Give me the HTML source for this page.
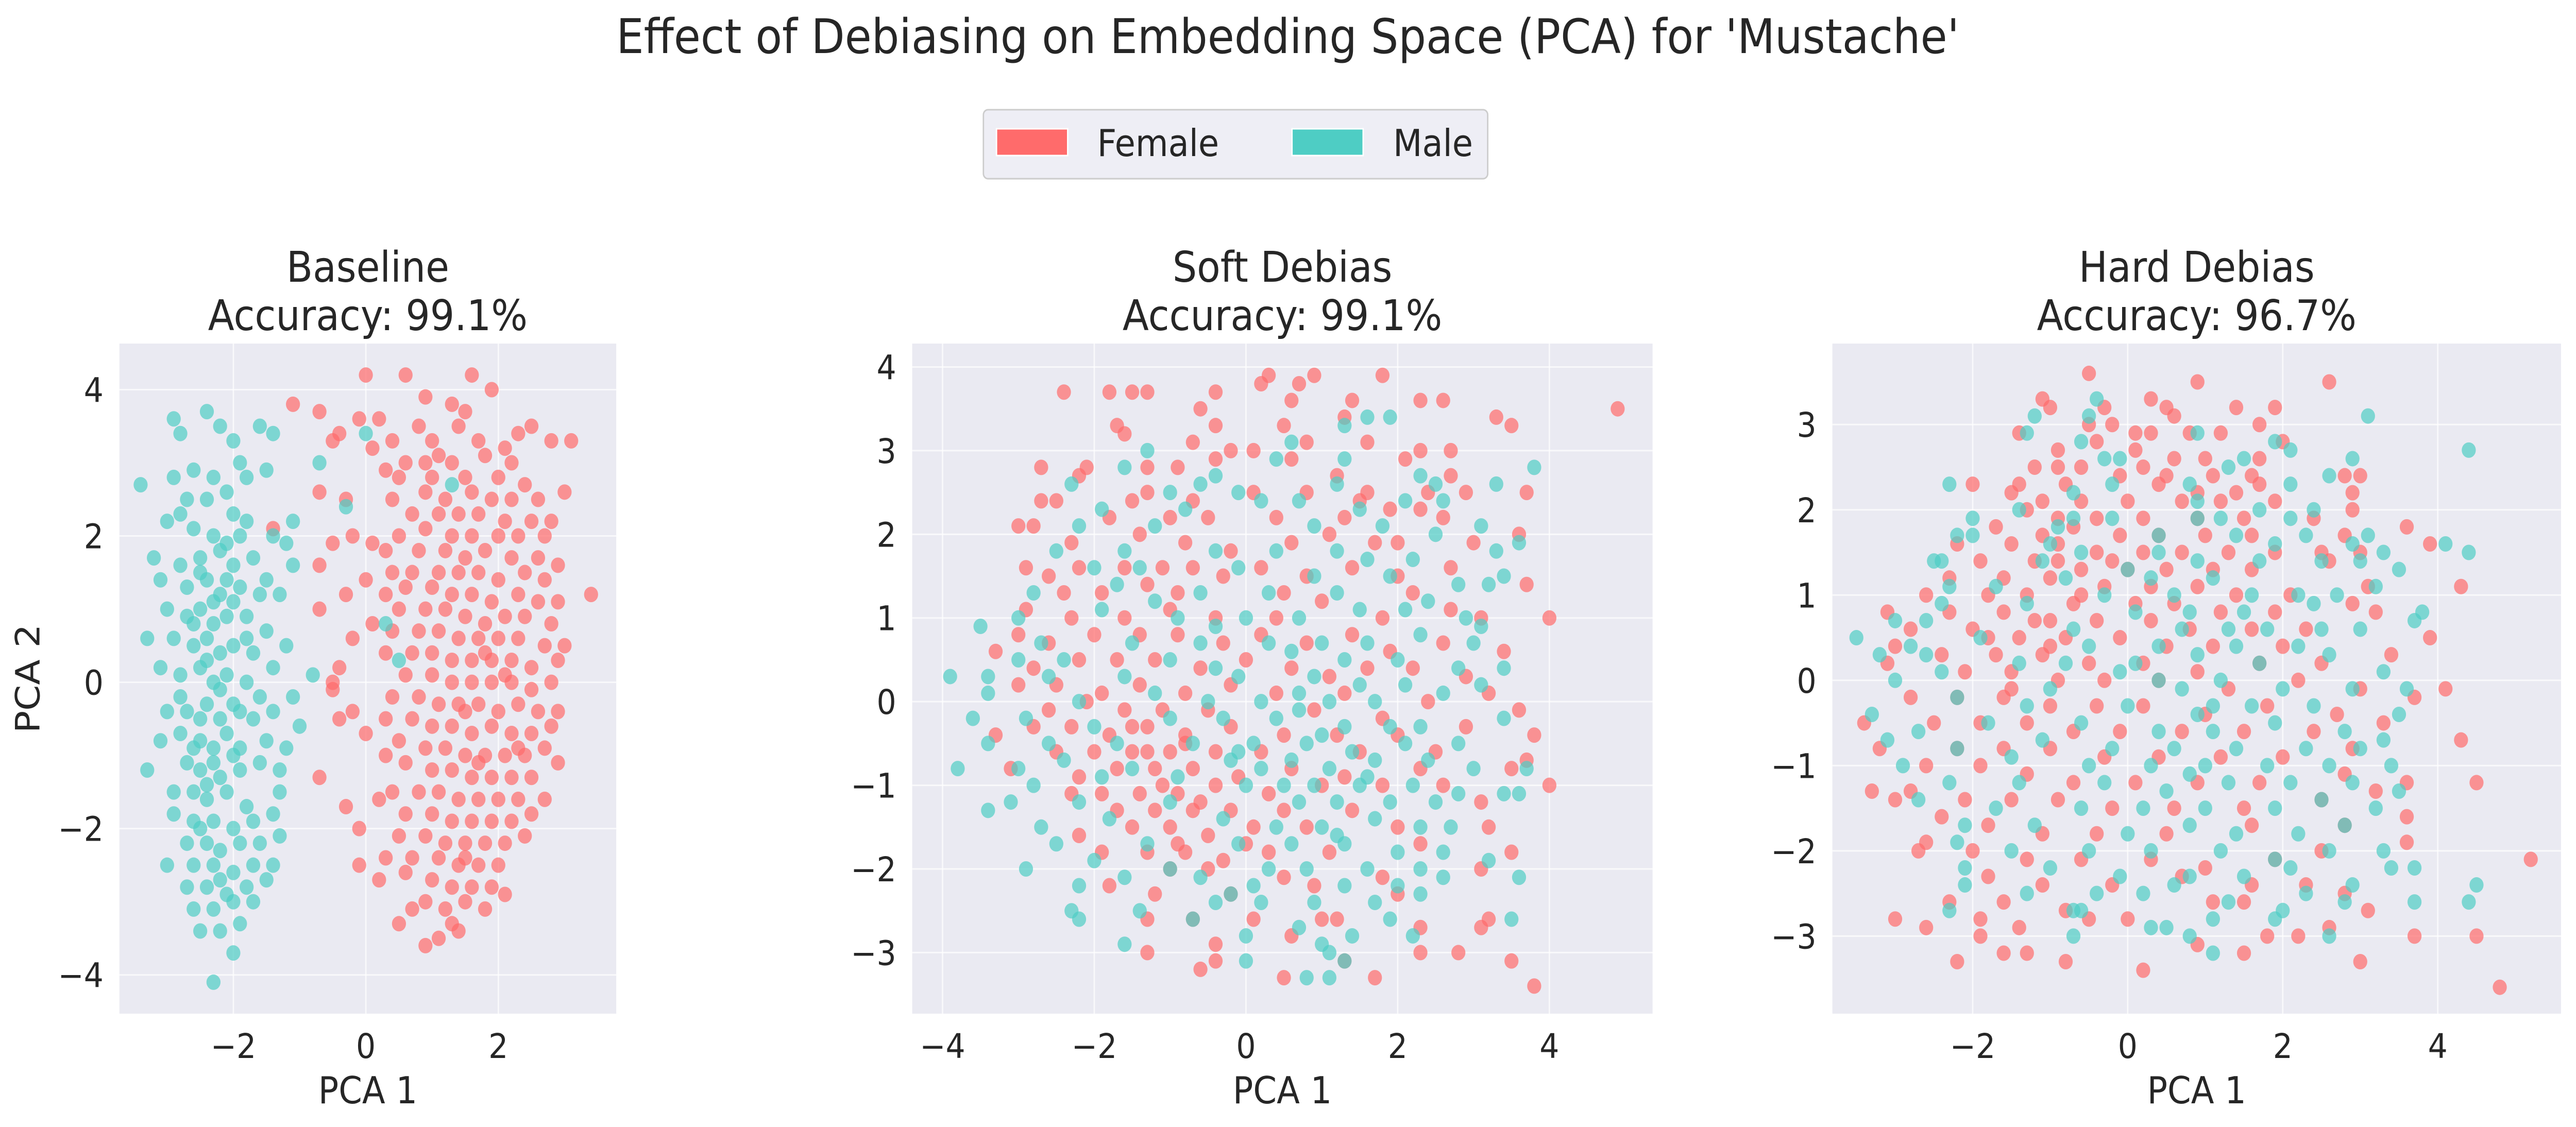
<!DOCTYPE html>
<html><head><meta charset="utf-8">
<style>
html,body{margin:0;padding:0;background:#fff;overflow:hidden;width:100%;height:100%;}
svg{display:block;position:absolute;left:0;top:0;width:100vw;height:100vh;font-family:"DejaVu Sans","Liberation Sans",sans-serif;}
</style></head>
<body>
<svg id="fig" viewBox="0 0 5501 2188" preserveAspectRatio="none" xmlns="http://www.w3.org/2000/svg">
<text x="2750" y="103" text-anchor="middle" font-size="93" fill="#262626">Effect of Debiasing on Embedding Space (PCA) for 'Mustache'</text>
<g>
<rect x="2100" y="213" width="1077" height="134" rx="10" fill="#EAEAF2" fill-opacity="0.8" stroke="#cccccc" stroke-width="3"/>
<rect x="2128" y="250" width="152" height="52" fill="#FF6B6B" stroke="#fff" stroke-width="3"/>
<text x="2343" y="303" font-size="72" fill="#262626">Female</text>
<rect x="2759" y="250" width="152" height="52" fill="#4ECDC4" stroke="#fff" stroke-width="3"/>
<text x="2975" y="303" font-size="72" fill="#262626">Male</text>
</g>
<g id="panels"></g>
</svg>
<script>
const baseF=[[0.0,4.2],[0.6,4.2],[1.6,4.2],[1.9,4.0],[-1.1,3.8],[1.3,3.8],[-0.7,3.7],[0.9,3.9],[1.5,3.7],[-0.1,3.6],[0.2,3.6],[-0.4,3.4],[0.8,3.5],[1.4,3.5],[2.3,3.4],[2.5,3.5],[3.1,3.3],[-0.5,3.3],[0.4,3.3],[1.0,3.3],[1.7,3.3],[2.1,3.2],[2.8,3.3],[0.1,3.2],[0.6,3.0],[0.9,3.0],[1.1,3.1],[1.3,3.0],[1.8,3.1],[2.2,3.0],[0.3,2.9],[0.5,2.8],[1.0,2.8],[1.5,2.8],[2.0,2.8],[2.4,2.7],[-0.7,2.6],[0.9,2.6],[1.2,2.5],[1.6,2.6],[1.9,2.5],[2.2,2.5],[2.6,2.5],[3.0,2.6],[-0.3,2.5],[0.4,2.5],[0.7,2.3],[1.1,2.3],[1.4,2.3],[1.7,2.3],[2.1,2.2],[2.5,2.2],[2.8,2.2],[-1.4,2.1],[-0.2,2.0],[0.1,1.9],[0.5,2.0],[0.9,2.1],[1.3,2.0],[1.6,2.0],[2.0,2.0],[2.3,2.0],[2.7,2.0],[-0.5,1.9],[0.3,1.8],[0.8,1.8],[1.2,1.8],[1.5,1.7],[1.8,1.8],[2.2,1.7],[2.6,1.7],[2.9,1.6],[-0.7,1.6],[0.4,1.5],[0.7,1.5],[1.1,1.5],[1.4,1.5],[1.7,1.5],[2.0,1.4],[2.4,1.5],[2.7,1.4],[0.0,1.4],[0.3,1.2],[0.6,1.3],[1.0,1.3],[1.3,1.2],[1.6,1.2],[1.9,1.1],[2.3,1.2],[2.6,1.1],[2.9,1.1],[3.4,1.2],[-0.3,1.2],[-0.7,1.0],[0.5,1.0],[0.9,1.0],[1.2,1.0],[1.5,0.9],[1.8,0.8],[2.1,0.9],[2.4,0.9],[2.8,0.8],[0.1,0.8],[0.4,0.7],[0.8,0.7],[1.1,0.7],[1.4,0.6],[1.7,0.6],[2.0,0.6],[2.3,0.6],[2.7,0.5],[3.0,0.5],[-0.2,0.6],[0.3,0.4],[0.7,0.4],[1.0,0.4],[1.3,0.3],[1.6,0.3],[1.9,0.3],[2.2,0.3],[2.5,0.2],[2.9,0.3],[-0.4,0.2],[0.6,0.1],[1.0,0.1],[1.3,0.0],[1.6,0.0],[1.9,0.0],[2.2,0.0],[2.5,-0.1],[2.8,0.0],[-0.5,-0.1],[0.4,-0.2],[0.8,-0.2],[1.1,-0.3],[1.4,-0.3],[1.7,-0.3],[2.0,-0.4],[2.3,-0.3],[2.6,-0.4],[2.9,-0.4],[0.3,-0.5],[0.7,-0.5],[1.0,-0.6],[1.3,-0.6],[1.6,-0.7],[1.9,-0.6],[2.2,-0.7],[2.5,-0.7],[2.8,-0.6],[-0.4,-0.5],[0.5,-0.8],[0.9,-0.9],[1.2,-0.9],[1.5,-1.0],[1.8,-1.0],[2.1,-1.0],[2.4,-1.0],[2.7,-0.9],[0.0,-0.7],[0.6,-1.1],[1.0,-1.2],[1.3,-1.2],[1.6,-1.3],[1.9,-1.3],[2.2,-1.3],[2.5,-1.3],[2.9,-1.1],[0.3,-1.0],[-0.7,-1.3],[0.4,-1.5],[0.8,-1.5],[1.1,-1.5],[1.4,-1.6],[1.7,-1.6],[2.0,-1.6],[2.3,-1.6],[2.7,-1.6],[-0.3,-1.7],[0.2,-1.6],[0.6,-1.8],[1.0,-1.8],[1.3,-1.9],[1.6,-1.9],[1.9,-1.9],[2.2,-1.9],[2.5,-1.8],[-0.1,-2.0],[0.5,-2.1],[0.9,-2.1],[1.2,-2.2],[1.5,-2.2],[1.8,-2.2],[2.1,-2.2],[2.4,-2.1],[0.3,-2.4],[0.7,-2.4],[1.1,-2.4],[1.4,-2.5],[1.7,-2.5],[2.0,-2.5],[-0.1,-2.5],[0.2,-2.7],[0.6,-2.6],[1.0,-2.7],[1.3,-2.8],[1.6,-2.8],[1.9,-2.8],[2.1,-2.9],[0.9,-3.0],[1.2,-3.1],[1.5,-3.0],[1.8,-3.1],[0.5,-3.3],[1.3,-3.3],[0.7,-3.1],[0.9,-3.6],[1.1,-3.5],[1.4,-3.4],[-0.5,0.0],[-0.2,-0.4],[2.3,-0.9],[1.7,-1.1],[1.5,-0.4],[2.1,0.1],[1.8,0.4],[1.5,-2.4]];
const baseM=[[-2.4,3.7],[-2.9,3.6],[-2.8,3.4],[-2.2,3.5],[-2.0,3.3],[-1.6,3.5],[-1.4,3.4],[-3.4,2.7],[-2.9,2.8],[-2.6,2.9],[-2.3,2.8],[-2.1,2.6],[-1.9,3.0],[-1.8,2.8],[-1.5,2.9],[-2.7,2.5],[-2.4,2.5],[-2.0,2.3],[-1.8,2.2],[-1.1,2.2],[-3.0,2.2],[-2.6,2.1],[-2.3,2.0],[-2.1,1.9],[-1.9,2.0],[-1.4,2.0],[-1.2,1.9],[-3.2,1.7],[-2.8,1.6],[-2.5,1.7],[-2.2,1.8],[-2.0,1.6],[-1.7,1.7],[-1.5,1.4],[-1.1,1.6],[-3.1,1.4],[-2.7,1.3],[-2.4,1.4],[-2.2,1.2],[-1.9,1.3],[-1.6,1.2],[-1.3,1.2],[-3.0,1.0],[-2.7,0.9],[-2.5,1.0],[-2.3,0.8],[-2.1,0.9],[-1.8,0.9],[-1.5,0.7],[-1.2,0.5],[-3.3,0.6],[-2.9,0.6],[-2.6,0.5],[-2.4,0.6],[-2.2,0.4],[-2.0,0.5],[-1.7,0.4],[-1.4,0.2],[-0.8,0.1],[-3.1,0.2],[-2.8,0.1],[-2.5,0.2],[-2.3,0.0],[-2.1,0.1],[-1.8,0.0],[-1.6,-0.2],[-1.1,-0.2],[-3.0,-0.4],[-2.7,-0.4],[-2.4,-0.3],[-2.2,-0.5],[-2.0,-0.3],[-1.7,-0.5],[-1.4,-0.4],[-1.0,-0.6],[-3.1,-0.8],[-2.8,-0.7],[-2.5,-0.8],[-2.3,-0.9],[-2.1,-0.7],[-1.9,-0.9],[-1.5,-0.8],[-1.2,-0.9],[-3.3,-1.2],[-2.7,-1.1],[-2.5,-1.2],[-2.2,-1.3],[-1.9,-1.2],[-1.6,-1.1],[-1.3,-1.2],[-2.9,-1.5],[-2.6,-1.5],[-2.4,-1.6],[-2.1,-1.5],[-1.8,-1.7],[-1.3,-1.5],[-2.9,-1.8],[-2.6,-1.9],[-2.3,-1.9],[-2.0,-2.0],[-1.7,-1.9],[-1.4,-1.8],[-2.7,-2.2],[-2.4,-2.2],[-2.2,-2.3],[-1.9,-2.2],[-1.6,-2.2],[-1.3,-2.1],[-3.0,-2.5],[-2.6,-2.5],[-2.3,-2.5],[-2.0,-2.6],[-1.7,-2.5],[-1.4,-2.5],[-2.7,-2.8],[-2.4,-2.8],[-2.1,-2.9],[-1.8,-2.8],[-1.5,-2.7],[-2.6,-3.1],[-2.3,-3.1],[-2.0,-3.0],[-1.7,-3.0],[-2.5,-3.4],[-2.2,-3.4],[-1.9,-3.3],[-2.0,-3.7],[-2.3,-4.1],[-2.8,2.3],[-2.5,1.5],[-2.3,1.1],[-2.6,0.8],[-2.4,0.3],[-2.2,-0.1],[-2.5,-0.5],[-2.3,-1.1],[-2.4,-1.4],[-2.5,-2.0],[-2.2,-2.7],[-2.0,1.1],[-2.0,-1.0],[-2.8,-0.2],[-1.8,0.6],[-1.9,-0.4],[-2.6,-0.9],[-2.1,1.4],[0.0,3.4],[-0.7,3.0],[0.5,0.3],[0.3,0.8],[1.3,2.7],[-0.3,2.4]];
const softF=[[-2.4,3.7],[-1.8,3.7],[-1.5,3.7],[-1.3,3.7],[0.3,3.9],[0.9,3.9],[1.8,3.9],[-0.4,3.7],[0.2,3.8],[0.7,3.8],[-0.6,3.5],[0.6,3.6],[1.4,3.6],[2.3,3.6],[2.6,3.6],[4.9,3.5],[-1.7,3.3],[-0.4,3.3],[0.5,3.3],[1.3,3.4],[3.3,3.4],[3.5,3.3],[-1.6,3.2],[-0.7,3.1],[-0.2,3.0],[0.1,3.0],[0.8,3.1],[1.6,3.1],[2.3,3.0],[2.7,3.0],[-2.7,2.8],[-2.1,2.8],[-1.3,2.8],[-0.9,2.8],[-0.4,2.9],[0.6,2.9],[1.2,2.7],[2.1,2.9],[2.7,2.7],[-2.2,2.7],[-1.3,2.5],[0.8,2.5],[1.6,2.5],[2.4,2.5],[3.7,2.5],[-2.7,2.4],[-2.5,2.4],[-1.5,2.4],[-0.7,2.4],[0.1,2.5],[1.5,2.4],[2.3,2.3],[2.9,2.5],[-3.0,2.1],[-2.8,2.1],[-1.8,2.2],[-1.0,2.2],[-0.5,2.2],[0.4,2.2],[1.3,2.2],[1.9,2.3],[2.6,2.2],[3.6,2.0],[-2.3,1.9],[-1.4,2.0],[-0.8,1.9],[-0.2,1.8],[0.6,1.9],[1.1,2.0],[1.7,1.9],[2.0,1.9],[3.0,1.9],[-2.9,1.6],[-2.6,1.5],[-2.2,1.6],[-1.6,1.6],[-1.1,1.6],[-0.7,1.6],[-0.3,1.5],[0.2,1.6],[0.8,1.5],[1.4,1.6],[2.0,1.5],[2.7,1.6],[-2.4,1.3],[-1.9,1.3],[-1.3,1.4],[-0.9,1.3],[0.5,1.3],[1.0,1.2],[2.2,1.3],[3.7,1.4],[-2.9,1.1],[-2.3,1.0],[-1.6,1.0],[-1.0,1.1],[-0.4,1.0],[0.4,1.0],[1.8,1.0],[2.7,1.1],[3.1,1.0],[4.0,1.0],[-3.0,0.8],[-2.6,0.7],[-2.0,0.8],[-1.4,0.8],[-0.9,0.8],[-0.3,0.7],[0.2,0.8],[0.8,0.7],[1.4,0.8],[1.9,0.6],[2.6,0.7],[3.4,0.6],[-3.3,0.6],[-2.8,0.4],[-2.2,0.5],[-1.7,0.5],[-1.2,0.5],[-0.6,0.4],[0.0,0.5],[0.6,0.4],[1.1,0.3],[1.6,0.4],[2.2,0.4],[2.9,0.3],[-3.0,0.2],[-2.5,0.2],[-1.9,0.1],[-1.4,0.2],[-0.8,0.1],[-0.2,0.2],[0.4,0.1],[1.3,0.1],[2.4,0.0],[3.2,0.1],[-2.6,-0.1],[-2.1,0.0],[-1.6,-0.1],[-1.1,-0.1],[-0.5,-0.1],[0.9,-0.1],[1.8,-0.2],[3.6,-0.1],[-3.3,-0.4],[-2.8,-0.3],[-2.3,-0.3],[-1.8,-0.4],[-1.3,-0.3],[-0.8,-0.4],[-0.2,-0.3],[0.5,-0.4],[1.2,-0.4],[2.0,-0.4],[2.9,-0.3],[3.8,-0.4],[-2.5,-0.6],[-2.0,-0.6],[-1.5,-0.6],[-1.0,-0.6],[-0.4,-0.6],[0.2,-0.6],[1.5,-0.6],[2.5,-0.6],[3.7,-0.7],[-3.1,-0.8],[-2.2,-0.9],[-1.7,-0.8],[-1.2,-0.8],[-0.7,-0.8],[-0.1,-0.9],[0.6,-0.8],[1.3,-0.9],[2.3,-0.8],[3.5,-0.8],[-2.3,-1.1],[-1.9,-1.1],[-1.4,-1.1],[-0.9,-1.1],[-0.4,-1.0],[0.3,-1.1],[1.0,-1.0],[1.8,-1.0],[2.6,-1.0],[4.0,-1.0],[-1.7,-1.3],[-1.2,-1.3],[-0.7,-1.3],[-0.2,-1.3],[0.5,-1.3],[1.4,-1.3],[3.1,-1.2],[-2.2,-1.6],[-1.5,-1.5],[-1.0,-1.5],[-0.5,-1.6],[0.1,-1.5],[0.8,-1.5],[2.0,-1.5],[3.2,-1.5],[-1.9,-1.8],[-1.3,-1.8],[-0.8,-1.8],[-0.3,-1.9],[0.3,-1.8],[1.1,-1.8],[2.3,-1.7],[3.5,-1.8],[-1.0,-2.0],[-0.5,-2.0],[0.5,-2.1],[1.8,-2.1],[3.1,-2.0],[-1.8,-2.2],[-1.2,-2.3],[-0.2,-2.3],[0.9,-2.2],[2.0,-2.3],[-1.3,-2.6],[-0.7,-2.6],[0.1,-2.6],[1.2,-2.6],[3.2,-2.6],[-0.4,-2.9],[0.6,-2.8],[1.0,-2.6],[2.3,-2.7],[3.1,-2.7],[-1.3,-3.0],[-0.4,-3.1],[0.5,-3.3],[1.3,-3.1],[2.3,-3.0],[2.8,-3.0],[-0.6,-3.2],[1.7,-3.3],[3.5,-3.1],[3.8,-3.4],[-1.1,-1.0],[-0.8,-0.5],[-1.5,-0.3],[-0.6,-1.2],[-1.3,-0.6],[0.0,-1.7],[-0.9,-1.7]];
const softM=[[1.6,3.4],[1.9,3.4],[1.3,3.3],[0.6,3.1],[-1.3,3.0],[-1.6,2.8],[-0.4,2.7],[-0.6,2.6],[0.4,2.9],[1.3,2.9],[3.8,2.8],[-2.3,2.6],[-1.0,2.5],[-0.1,2.5],[1.2,2.6],[2.3,2.7],[2.5,2.6],[3.3,2.6],[-1.9,2.3],[-0.8,2.3],[0.2,2.4],[0.7,2.4],[1.5,2.3],[2.1,2.4],[2.6,2.4],[-2.2,2.1],[-1.2,2.1],[0.9,2.1],[1.8,2.1],[2.5,2.0],[3.1,2.1],[3.6,1.9],[-2.5,1.8],[-1.6,1.8],[-0.4,1.8],[0.4,1.8],[1.2,1.8],[1.6,1.7],[2.2,1.7],[3.3,1.8],[-2.0,1.6],[-1.4,1.6],[-0.1,1.6],[0.9,1.5],[1.9,1.5],[2.8,1.4],[3.4,1.5],[-2.8,1.3],[-1.7,1.4],[-0.6,1.3],[0.3,1.3],[1.2,1.3],[2.4,1.2],[3.2,1.4],[-3.0,1.0],[-1.9,1.1],[-0.9,1.0],[0.0,1.0],[0.7,1.0],[1.5,1.1],[2.1,1.1],[2.9,1.0],[3.1,0.9],[-3.5,0.9],[-2.7,0.7],[-1.5,0.7],[-0.6,0.7],[0.3,0.7],[1.0,0.7],[1.6,0.7],[2.3,0.8],[3.0,0.7],[-3.0,0.5],[-2.4,0.5],[-1.0,0.5],[-0.4,0.4],[0.6,0.6],[1.3,0.5],[2.0,0.5],[2.8,0.4],[3.4,0.4],[-3.9,0.3],[-3.4,0.3],[-2.6,0.3],[-1.6,0.3],[-0.1,0.3],[0.9,0.3],[1.5,0.2],[2.1,0.2],[3.1,0.2],[-3.4,0.1],[-2.2,0.0],[-1.2,0.1],[-0.5,0.0],[0.2,0.0],[0.7,0.1],[1.1,0.0],[1.7,0.0],[2.6,0.1],[-3.6,-0.2],[-2.9,-0.2],[-2.0,-0.3],[-1.0,-0.2],[-0.3,-0.2],[0.4,-0.2],[1.3,-0.3],[1.9,-0.3],[2.3,-0.3],[3.4,-0.2],[-3.4,-0.5],[-2.6,-0.5],[-1.7,-0.5],[-0.7,-0.5],[0.1,-0.5],[0.8,-0.5],[1.4,-0.6],[2.1,-0.5],[2.8,-0.5],[-3.0,-0.8],[-2.4,-0.7],[-1.5,-0.8],[-0.2,-0.7],[0.6,-0.7],[1.1,-0.8],[1.7,-0.7],[2.4,-0.7],[3.0,-0.8],[3.7,-0.8],[-3.8,-0.8],[-2.8,-1.0],[-1.9,-0.9],[-0.9,-0.9],[0.0,-1.0],[0.9,-1.0],[1.5,-1.0],[2.2,-1.0],[2.8,-1.1],[3.6,-1.1],[-3.1,-1.2],[-3.4,-1.3],[-2.2,-1.2],[-1.0,-1.2],[0.7,-1.2],[1.2,-1.2],[1.9,-1.2],[2.5,-1.2],[3.4,-1.1],[-2.7,-1.5],[-1.8,-1.4],[-0.3,-1.4],[0.4,-1.5],[1.0,-1.5],[1.7,-1.4],[2.3,-1.5],[2.7,-1.5],[-2.5,-1.7],[-1.3,-1.7],[-0.1,-1.7],[0.6,-1.7],[1.3,-1.7],[2.0,-1.8],[2.6,-1.8],[-2.0,-1.9],[-1.0,-2.0],[0.3,-2.0],[0.8,-2.0],[1.6,-2.0],[2.3,-2.0],[3.2,-1.9],[-2.9,-2.0],[-2.2,-2.2],[-1.6,-2.1],[-0.6,-2.1],[0.1,-2.2],[1.3,-2.2],[2.0,-2.2],[2.6,-2.1],[3.6,-2.1],[-2.3,-2.5],[-1.4,-2.5],[-0.4,-2.4],[0.2,-2.4],[0.9,-2.4],[1.7,-2.4],[2.3,-2.3],[-2.2,-2.6],[-0.7,-2.6],[0.7,-2.7],[1.4,-2.8],[1.9,-2.6],[3.5,-2.6],[-1.6,-2.9],[0.0,-2.8],[1.0,-2.9],[2.2,-2.8],[0.0,-3.1],[1.1,-3.0],[1.3,-3.1],[0.8,-3.3],[1.1,-3.3],[-0.2,-2.3],[0.5,-1.0],[0.2,-0.8],[-0.1,-0.6],[1.0,-0.4],[0.7,-0.1],[1.6,-0.9],[1.2,-1.6],[-0.4,0.9],[-1.2,1.2]];
const hardF=[[-0.5,3.6],[2.6,3.5],[0.9,3.5],[-1.1,3.3],[-1.0,3.2],[0.3,3.3],[-0.3,3.2],[0.5,3.2],[1.4,3.2],[1.9,3.2],[-0.5,3.0],[-0.2,3.0],[0.6,3.1],[1.7,3.0],[-1.4,2.9],[0.1,2.9],[0.3,2.9],[0.8,2.9],[1.2,2.9],[2.0,2.8],[-0.9,2.7],[-0.4,2.8],[0.1,2.7],[0.6,2.6],[1.0,2.6],[1.7,2.6],[-1.2,2.5],[-0.9,2.5],[-0.6,2.5],[0.2,2.5],[0.5,2.4],[1.1,2.4],[1.6,2.4],[2.8,2.4],[3.0,2.4],[-2.0,2.3],[-1.4,2.3],[-0.8,2.3],[-0.1,2.4],[0.4,2.3],[0.9,2.2],[1.4,2.2],[1.7,2.3],[2.9,2.2],[-1.5,2.2],[-1.1,2.1],[-0.6,2.1],[0.0,2.1],[0.7,2.1],[1.2,2.1],[1.9,2.1],[2.9,2.0],[-1.3,2.0],[-0.9,1.9],[-0.4,1.9],[0.2,1.9],[0.9,1.9],[1.5,1.9],[2.4,1.9],[3.6,1.8],[-1.7,1.8],[-1.1,1.7],[-0.7,1.8],[-0.1,1.7],[0.4,1.7],[1.0,1.7],[1.6,1.7],[2.8,1.7],[3.9,1.6],[-2.2,1.6],[-1.5,1.6],[-0.9,1.6],[-0.4,1.5],[0.2,1.5],[0.7,1.5],[1.3,1.5],[1.9,1.5],[2.5,1.5],[3.0,1.5],[-1.9,1.4],[-1.2,1.4],[-0.6,1.3],[0.0,1.3],[0.5,1.3],[1.1,1.3],[1.6,1.3],[2.6,1.4],[-2.3,1.2],[-1.6,1.2],[-1.0,1.2],[-0.3,1.1],[0.3,1.1],[0.9,1.1],[1.4,1.0],[2.1,1.0],[3.1,1.1],[-2.6,1.0],[-1.8,1.0],[-1.3,1.0],[-0.7,0.9],[0.1,0.9],[0.6,0.9],[1.2,0.8],[1.9,0.8],[2.9,0.9],[4.3,1.1],[-3.1,0.8],[-2.3,0.8],[-1.6,0.8],[-1.0,0.7],[-0.4,0.7],[0.3,0.7],[0.8,0.6],[1.6,0.6],[2.3,0.6],[3.2,0.8],[-2.8,0.6],[-2.0,0.6],[-1.4,0.5],[-0.8,0.5],[-0.1,0.5],[0.5,0.4],[1.1,0.4],[2.0,0.4],[3.9,0.5],[-3.0,0.4],[-2.4,0.3],[-1.7,0.3],[-1.1,0.3],[-0.5,0.2],[0.2,0.2],[0.9,0.1],[1.7,0.2],[2.5,0.2],[3.4,0.3],[-3.1,0.2],[-2.1,0.1],[-1.5,0.1],[-0.9,0.0],[-0.3,0.0],[0.4,0.0],[1.3,-0.1],[2.2,0.0],[3.0,-0.1],[4.1,-0.1],[-3.4,-0.5],[-2.8,-0.2],[-2.2,-0.2],[-1.6,-0.2],[-1.0,-0.3],[-0.4,-0.3],[0.2,-0.3],[1.0,-0.4],[1.8,-0.3],[2.7,-0.4],[3.7,-0.2],[-2.5,-0.5],[-1.9,-0.5],[-1.3,-0.5],[-0.7,-0.6],[-0.1,-0.6],[0.7,-0.6],[1.5,-0.6],[2.4,-0.6],[3.3,-0.5],[-3.2,-0.8],[-2.2,-0.8],[-1.6,-0.8],[-1.0,-0.8],[-0.3,-0.9],[0.4,-0.9],[1.2,-0.9],[2.0,-0.9],[2.9,-0.8],[4.3,-0.7],[-2.6,-1.0],[-1.9,-1.0],[-1.3,-1.1],[-0.7,-1.2],[0.1,-1.2],[0.9,-1.2],[1.7,-1.2],[2.8,-1.1],[3.6,-1.2],[-3.3,-1.3],[-2.8,-1.3],[-2.1,-1.4],[-1.5,-1.4],[-0.9,-1.4],[-0.2,-1.5],[0.6,-1.5],[1.5,-1.5],[2.5,-1.4],[3.2,-1.3],[4.5,-1.2],[-3.0,-1.4],[-2.4,-1.6],[-1.8,-1.7],[-1.1,-1.8],[-0.4,-1.8],[0.5,-1.8],[1.6,-1.7],[2.8,-1.7],[3.6,-1.6],[-2.6,-1.9],[-2.0,-2.0],[-1.3,-2.1],[-0.6,-2.1],[0.3,-2.1],[1.0,-2.2],[1.9,-2.1],[2.5,-2.0],[3.6,-1.9],[5.2,-2.1],[-2.7,-2.0],[-1.8,-2.3],[-1.1,-2.4],[-0.2,-2.4],[0.7,-2.3],[1.6,-2.4],[2.3,-2.4],[2.8,-2.5],[-2.3,-2.6],[-1.6,-2.6],[-0.8,-2.7],[0.0,-2.8],[1.1,-2.6],[1.5,-2.6],[2.6,-2.9],[3.1,-2.7],[-3.0,-2.8],[-2.6,-2.9],[-1.9,-2.8],[-1.4,-2.9],[-0.5,-2.8],[0.9,-3.1],[1.8,-3.0],[3.7,-3.0],[-1.9,-3.0],[-1.6,-3.2],[-1.3,-3.2],[-0.8,-3.3],[0.2,-3.4],[1.5,-3.2],[2.2,-3.0],[3.0,-3.3],[-2.2,-3.3],[4.8,-3.6],[4.5,-3.0],[-1.0,0.4],[-0.6,1.0],[-1.2,0.7],[-0.2,1.4],[-0.9,1.4],[-1.5,-0.1],[-1.8,0.5]];
const hardM=[[-0.4,3.3],[3.1,3.1],[-1.2,3.1],[-0.5,3.1],[-1.3,2.9],[0.9,2.9],[1.9,2.8],[-0.6,2.8],[2.1,2.7],[4.4,2.7],[-0.3,2.6],[-0.1,2.6],[1.3,2.5],[1.5,2.6],[2.9,2.6],[2.6,2.4],[-2.3,2.3],[-0.2,2.3],[0.8,2.3],[2.1,2.3],[-0.7,2.2],[0.9,2.1],[1.7,2.0],[2.4,2.0],[-1.4,2.0],[-0.7,1.9],[-2.0,1.9],[0.9,1.9],[1.2,1.9],[2.1,1.9],[-0.9,1.8],[-2.2,1.7],[-0.2,1.9],[1.4,1.7],[2.3,1.7],[3.1,1.7],[4.1,1.6],[-2.0,1.7],[0.4,1.7],[1.9,1.6],[2.9,1.6],[3.3,1.5],[4.4,1.5],[-2.5,1.4],[-2.4,1.4],[-1.1,1.4],[-0.6,1.5],[0.4,1.5],[0.9,1.4],[1.7,1.4],[2.5,1.4],[3.0,1.4],[-0.8,1.2],[0.3,1.2],[1.1,1.2],[2.2,1.0],[3.5,1.3],[-2.3,1.1],[-1.7,1.1],[-0.3,1.0],[0.6,1.0],[1.6,1.0],[2.7,1.0],[3.2,1.1],[-2.4,0.9],[-1.3,0.9],[0.1,0.8],[0.8,0.8],[1.5,0.8],[2.4,0.9],[3.8,0.8],[-2.6,0.7],[-3.0,0.7],[-0.7,0.6],[0.7,0.6],[1.3,0.6],[1.8,0.6],[2.5,0.6],[3.7,0.7],[-3.5,0.5],[-2.8,0.4],[-1.9,0.5],[-0.5,0.4],[0.4,0.4],[1.4,0.4],[2.2,0.4],[3.0,0.6],[-3.2,0.3],[-2.6,0.3],[-1.4,0.2],[0.1,0.2],[0.9,0.3],[1.7,0.2],[2.6,0.3],[3.3,0.1],[-3.0,0.0],[-2.4,0.1],[-1.0,-0.1],[-0.1,0.1],[0.7,-0.1],[1.2,0.0],[2.0,-0.1],[2.9,-0.1],[3.6,-0.1],[-3.3,-0.4],[-2.2,-0.2],[-1.3,-0.3],[0.0,-0.3],[0.9,-0.4],[1.6,-0.3],[2.4,-0.3],[3.5,-0.4],[-2.7,-0.6],[-1.8,-0.5],[-0.6,-0.5],[0.4,-0.6],[1.1,-0.6],[1.9,-0.5],[2.8,-0.6],[3.3,-0.7],[-3.1,-0.7],[-2.2,-0.8],[-1.1,-0.7],[-0.2,-0.8],[0.6,-0.8],[1.4,-0.8],[2.3,-0.8],[3.0,-0.8],[-2.9,-1.0],[-1.5,-0.9],[-0.5,-1.0],[0.3,-1.0],[1.0,-1.0],[1.8,-1.0],[2.6,-1.0],[3.4,-1.0],[-2.3,-1.2],[-1.4,-1.2],[-0.3,-1.2],[0.5,-1.3],[1.3,-1.2],[2.1,-1.2],[2.9,-1.2],[3.5,-1.3],[-2.7,-1.4],[-1.7,-1.5],[-0.6,-1.5],[0.2,-1.5],[1.0,-1.5],[1.9,-1.5],[2.5,-1.4],[3.2,-1.5],[-2.1,-1.7],[-1.2,-1.7],[0.0,-1.8],[0.8,-1.7],[1.4,-1.8],[2.2,-1.8],[2.8,-1.7],[-2.2,-1.9],[-1.5,-2.0],[-0.5,-2.0],[0.3,-2.0],[1.2,-2.0],[1.9,-2.1],[2.6,-2.0],[3.3,-2.0],[-2.1,-2.2],[-1.0,-2.2],[-0.1,-2.3],[0.8,-2.3],[1.5,-2.3],[2.1,-2.2],[3.4,-2.2],[3.7,-2.2],[-2.1,-2.4],[-1.3,-2.5],[-0.4,-2.5],[0.6,-2.4],[1.3,-2.6],[2.3,-2.5],[2.9,-2.4],[4.5,-2.4],[-2.3,-2.7],[-0.6,-2.7],[0.2,-2.5],[1.1,-2.8],[2.0,-2.7],[2.8,-2.6],[3.7,-2.6],[4.4,-2.6],[-0.7,-2.7],[0.5,-2.9],[0.3,-2.9],[1.9,-2.8],[2.6,-3.0],[-0.7,-3.0],[1.1,-3.2],[0.8,-3.0],[0.8,-1.1],[0.4,0.0],[1.1,-0.3],[-0.8,0.2],[0.0,1.3],[-1.0,1.6]];
const panelTitles=["Baseline","Soft Debias","Hard Debias"];
const accuracies=["99.1%","99.1%","96.7%"];
const xTicks1=[-2,0,2], yTicks1=[-4,-2,0,2,4];
const xTicks2=[-4,-2,0,2,4], yTicks2=[-3,-2,-1,0,1,2,3,4];
const xTicks3=[-2,0,2,4], yTicks3=[-3,-2,-1,0,1,2,3];
const xDomain1=[-3.72,3.78], yDomain1=[-4.53,4.63];
const xDomain2=[-4.40,5.36], yDomain2=[-3.73,4.28];
const xDomain3=[-3.81,5.59], yDomain3=[-3.91,3.95];

const NS="http://www.w3.org/2000/svg";
const root=document.getElementById('panels');
function mk(tag,attrs,parent){const e=document.createElementNS(NS,tag);for(const k in attrs)e.setAttribute(k,attrs[k]);parent.appendChild(e);return e;}
function fmt(v){return v<0?"\u2212"+Math.abs(v):String(v);}
const boxes=[{l:255,r:1316,t:667,b:1968},{l:1948,r:3529,t:667,b:1968},{l:3913,r:5469,t:667,b:1968}];
const specs=[
 {f:baseF,m:baseM,xt:xTicks1,yt:yTicks1,xd:xDomain1,yd:yDomain1,ylab:true,key:'baseline'},
 {f:softF,m:softM,xt:xTicks2,yt:yTicks2,xd:xDomain2,yd:yDomain2,ylab:false,key:'soft-debias'},
 {f:hardF,m:hardM,xt:xTicks3,yt:yTicks3,xd:xDomain3,yd:yDomain3,ylab:false,key:'hard-debias'}];
specs.forEach((s,i)=>{
 const B=boxes[i];
 const X=v=>B.l+(v-s.xd[0])/(s.xd[1]-s.xd[0])*(B.r-B.l);
 const Y=v=>B.b-(v-s.yd[0])/(s.yd[1]-s.yd[0])*(B.b-B.t);
 const g=mk('g',{},root);
 
 
 const bg=mk('rect',{x:B.l,y:B.t,width:B.r-B.l,height:B.b-B.t,fill:'#EAEAF2'},g);
 
 
 s.xt.forEach(v=>{
  const ln=mk('line',{x1:X(v),x2:X(v),y1:B.t,y2:B.b,stroke:'#fff','stroke-opacity':0.7,'stroke-width':3},g);
  
  
  const t=mk('text',{x:X(v),y:2054,'text-anchor':'middle','font-size':66,fill:'#262626'},g);
  t.textContent=fmt(v);
  
  
 });
 s.yt.forEach(v=>{
  const ln=mk('line',{x1:B.l,x2:B.r,y1:Y(v),y2:Y(v),stroke:'#fff','stroke-opacity':0.7,'stroke-width':3},g);
  
  
  const t=mk('text',{x:B.l-34,y:Y(v)+24,'text-anchor':'end','font-size':66,fill:'#262626'},g);
  t.textContent=fmt(v);
  
  
 });
 [[s.f,'#FF6B6B','female'],[s.m,'#4ECDC4','male']].forEach(([arr,col,nm])=>{
  const sg=mk('g',{fill:col,'fill-opacity':0.7},g);
  
  
  arr.forEach(p=>{
   const c=mk('circle',{cx:X(p[0]),cy:Y(p[1]),r:15},sg);
   
   
  });
 });
 const cx=(B.l+B.r)/2;
 const t1=mk('text',{x:cx,y:547,'text-anchor':'middle','font-size':82,fill:'#262626'},g);
 t1.textContent=panelTitles[i];
 
 
 const t2=mk('text',{x:cx,y:641,'text-anchor':'middle','font-size':82,fill:'#262626'},g);
 t2.textContent='Accuracy: '+accuracies[i];
 
 
 const xl=mk('text',{x:cx,y:2142,'text-anchor':'middle','font-size':72,fill:'#262626'},g);
 xl.textContent='PCA 1';
 
 
 if(s.ylab){
  const yl=mk('text',{x:0,y:0,'text-anchor':'middle','font-size':72,fill:'#262626',transform:'translate(84,'+((B.t+B.b)/2)+') rotate(-90)'},g);
  yl.textContent='PCA 2';
  
  
 }
});
</script>
</body></html>
